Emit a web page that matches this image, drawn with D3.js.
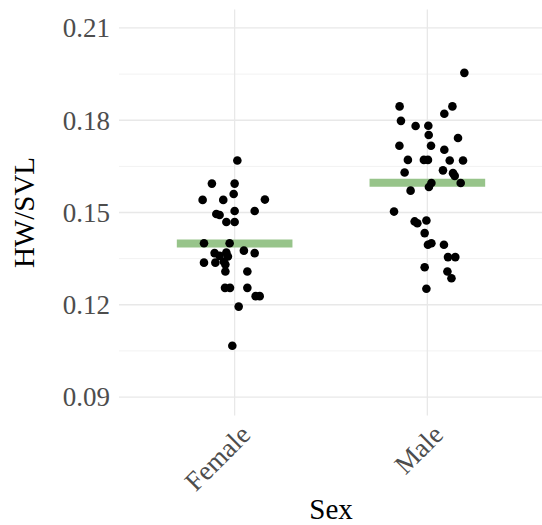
<!DOCTYPE html>
<html>
<head>
<meta charset="utf-8">
<script src="https://cdn.jsdelivr.net/npm/d3@7"></script>
<style>
  body { margin: 0; background: #fff; }
</style>
</head>
<body>
<div id="chart"></div>
<script>
const w = 542;
const h = 525;
const serif = "'Liberation Serif', 'Times New Roman', serif";

// categories and the y ticks
const categories = ["Female", "Male"];
const yTicks = [0.09, 0.12, 0.15, 0.18, 0.21];
const yMinor = [0.105, 0.135, 0.165, 0.195];

// HW/SVL, with the horizontal jitter (in category widths)
const femaleValues = [0.1669, 0.1594, 0.1594, 0.1560, 0.1541, 0.1541, 0.1542, 0.1495, 0.1492, 0.1505,
    0.1505, 0.1469, 0.1469, 0.1400, 0.1400, 0.1376, 0.1368, 0.1368, 0.1370, 0.1357,
    0.1359, 0.1337, 0.1337, 0.1340, 0.1331, 0.1308, 0.1308, 0.1255, 0.1255, 0.1255,
    0.1228, 0.1228, 0.1194, 0.1067];
const femaleJitter = [0.014, -0.118, 0, -0.005, -0.166, -0.059, 0.157, -0.095, -0.078, 0,
    0.104, -0.043, 0, -0.159, -0.026, 0.048, 0.104, -0.104, -0.043, -0.035,
    -0.078, -0.159, -0.100, -0.056, -0.048, -0.048, 0.066, -0.050, -0.024, 0.066,
    0.109, 0.130, 0.021, -0.012];

const maleValues = [0.1954, 0.1845, 0.1845, 0.1821, 0.1798, 0.1781, 0.1782, 0.1752, 0.1742, 0.1717,
    0.1717, 0.1704, 0.1671, 0.1671, 0.1671, 0.1669, 0.1669, 0.1630, 0.1637, 0.1628,
    0.1619, 0.1596, 0.1596, 0.1583, 0.1571, 0.1503, 0.1471, 0.1465, 0.1474, 0.1433,
    0.1395, 0.1400, 0.1395, 0.1355, 0.1355, 0.1322, 0.1308, 0.1286, 0.1252];
const maleJitter = [0.192, -0.144, 0.130, 0.088, -0.137, -0.061, 0.005, 0.007, 0.159, -0.145,
    0.019, 0.088, -0.101, -0.018, 0.003, 0.116, 0.185, -0.118, 0.081, 0.133,
    0.142, 0.173, 0.021, 0.008, -0.087, -0.173, -0.066, -0.052, -0.005, -0.014,
    0.003, 0.021, 0.086, 0.107, 0.145, -0.014, 0.104, 0.125, -0.005];

// group means (green bars)
const means = [0.1399, 0.1597];

const margin = {left: 119, right: -1, top: 9.5, bottom: 109.5};

const svg = d3.select("div#chart").append("svg")
    .attr("width", w)
    .attr("height", h)
    .style("font-family", serif);

// y: limits 0.09-0.21 plus 5% expansion like ggplot
const y = d3.scaleLinear().domain([0.084, 0.216]).range([h - margin.bottom, margin.top]);
// x: discrete axis with 0.6 expansion on each side
const x = d3.scaleLinear().domain([0.4, 2.6]).range([margin.left, w - margin.right]);

const points = [];
femaleValues.forEach(function(v, i) { points.push({g: 1, v: v, j: femaleJitter[i]}); });
maleValues.forEach(function(v, i) { points.push({g: 2, v: v, j: maleJitter[i]}); });

const grid = svg.append("g");

// minor grid
grid.selectAll("line.minor")
    .data(yMinor)
    .enter()
    .append("line")
    .attr("x1", x(0.4)).attr("x2", x(2.6))
    .attr("y1", d => y(d)).attr("y2", d => y(d))
    .attr("stroke", "#f2f2f2")
    .attr("stroke-width", 1);

// major grid
grid.selectAll("line.major")
    .data(yTicks)
    .enter()
    .append("line")
    .attr("x1", x(0.4)).attr("x2", x(2.6))
    .attr("y1", d => y(d)).attr("y2", d => y(d))
    .attr("stroke", "#e8e8e8")
    .attr("stroke-width", 1.3);

grid.selectAll("line.vert")
    .data(categories)
    .enter()
    .append("line")
    .attr("x1", (d, i) => x(i + 1)).attr("x2", (d, i) => x(i + 1))
    .attr("y1", y(0.084)).attr("y2", y(0.216))
    .attr("stroke", "#e8e8e8")
    .attr("stroke-width", 1.3);

// mean bars
svg.selectAll("line.mean")
    .data(means)
    .enter()
    .append("line")
    .attr("x1", (d, i) => x(i + 1 - 0.3))
    .attr("x2", (d, i) => x(i + 1 + 0.3))
    .attr("y1", d => y(d)).attr("y2", d => y(d))
    .attr("stroke", "#97c48a")
    .attr("stroke-width", 8);

// points
svg.selectAll("circle")
    .data(points)
    .enter()
    .append("circle")
    .attr("cx", d => x(d.g + d.j))
    .attr("cy", d => y(d.v))
    .attr("r", 4.3)
    .attr("fill", "black");

// y tick labels
svg.selectAll("text.ytick")
    .data(yTicks)
    .enter()
    .append("text")
    .attr("x", margin.left - 9)
    .attr("y", d => y(d))
    .attr("dy", "0.35em")
    .attr("text-anchor", "end")
    .style("font-family", serif)
    .style("font-size", "27px")
    .attr("fill", "#4d4d4d")
    .text(d => d.toFixed(2));

// x tick labels, rotated
svg.selectAll("text.xtick")
    .data(categories)
    .enter()
    .append("text")
    .attr("transform", (d, i) => "translate(" + (x(i + 1) + 4) + "," + 423 + ") rotate(-45)")
    .attr("dy", "0.7em")
    .attr("text-anchor", "end")
    .style("font-family", serif)
    .style("font-size", "27px")
    .attr("fill", "#4d4d4d")
    .text(d => d);

// axis titles
svg.append("text")
    .attr("x", (x(0.4) + x(2.6)) / 2)
    .attr("y", 519)
    .attr("text-anchor", "middle")
    .style("font-family", serif)
    .style("font-size", "29px")
    .attr("fill", "black")
    .text("Sex");

svg.append("text")
    .attr("transform", "translate(34," + ((y(0.084) + y(0.216)) / 2) + ") rotate(-90)")
    .attr("text-anchor", "middle")
    .style("font-family", serif)
    .style("font-size", "29px")
    .attr("fill", "black")
    .text("HW/SVL");
</script>
</body>
</html>
